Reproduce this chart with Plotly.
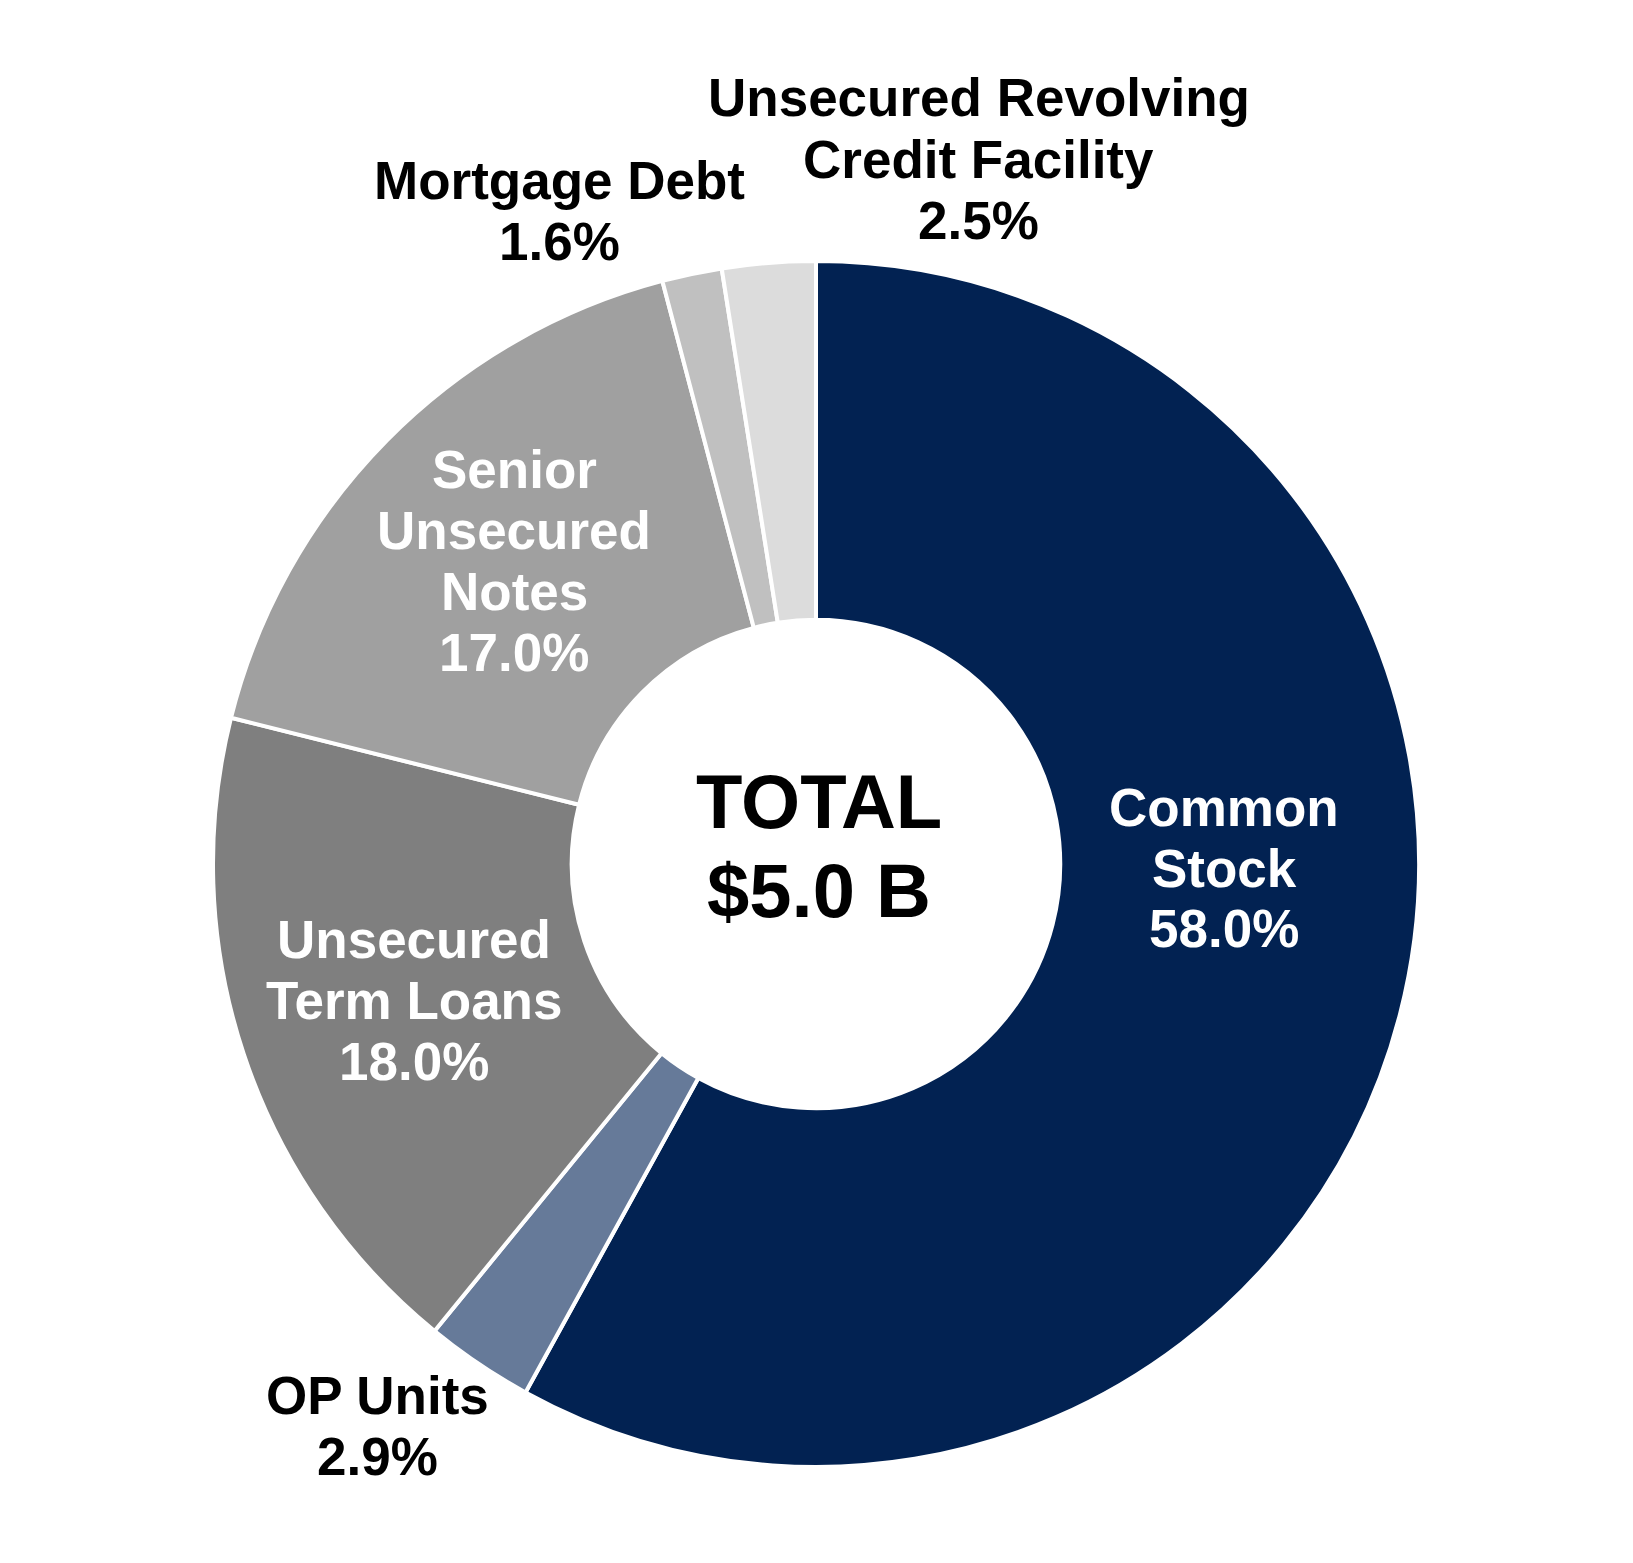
import plotly.graph_objects as go

# ---- data ----
categories = ["Common Stock", "OP Units", "Unsecured Term Loans",
              "Senior Unsecured Notes", "Mortgage Debt",
              "Unsecured Revolving Credit Facility"]
values = [58.0, 2.9, 18.0, 17.0, 1.6, 2.5]
label_lines = [["Common", "Stock"], ["OP Units"], ["Unsecured", "Term Loans"],
               ["Senior", "Unsecured", "Notes"], ["Mortgage Debt"],
               ["Unsecured Revolving", "Credit Facility"]]
center_lines = ["TOTAL", "$5.0 B"]

# ---- styles / layout ----
W, H = 1633, 1563
colors = ["#022252", "#667A99", "#7F7F7F", "#A0A0A0", "#C0C0C0", "#DCDCDC"]
text_colors = ["white", "black", "white", "white", "black", "black"]
label_centers = [(1224, 868), (377, 1426), (414, 1000), (514, 561), (559, 211), (979, 159)]
cx, cy, R = 816, 864, 603
hole = 0.405
FONT = "Liberation Sans, Arial, sans-serif"
fs, spacing = 53, 61

fig = go.Figure(go.Pie(
    labels=categories, values=values, sort=False, direction="clockwise",
    rotation=0, hole=hole, textinfo="none", hoverinfo="label+percent",
    marker=dict(colors=colors, line=dict(color="white", width=4)),
    domain=dict(x=[(cx - R) / W, (cx + R) / W],
                y=[(H - cy - R) / H, (H - cy + R) / H]),
    showlegend=False,
))

annotations = []
for lines, v, (px, py), tc in zip(label_lines, values, label_centers, text_colors):
    all_lines = lines + [f"{v:.1f}%"]
    n = len(all_lines)
    for i, t in enumerate(all_lines):
        yy = py + (i - (n - 1) / 2) * spacing
        annotations.append(dict(
            text=f"<b>{t}</b>", x=px / W, y=1 - yy / H, xref="paper", yref="paper",
            showarrow=False, xanchor="center", yanchor="middle",
            font=dict(family=FONT, size=fs, color=tc)))

for i, t in enumerate(center_lines):
    yy = 846 + (i - 0.5) * 89
    annotations.append(dict(
        text=f"<b>{t}</b>", x=819 / W, y=1 - yy / H, xref="paper", yref="paper",
        showarrow=False, xanchor="center", yanchor="middle",
        font=dict(family=FONT, size=76, color="black")))

fig.update_layout(width=W, height=H, margin=dict(l=0, r=0, t=0, b=0),
                  paper_bgcolor="white", plot_bgcolor="white",
                  annotations=annotations)
fig.write_html("out.html")
